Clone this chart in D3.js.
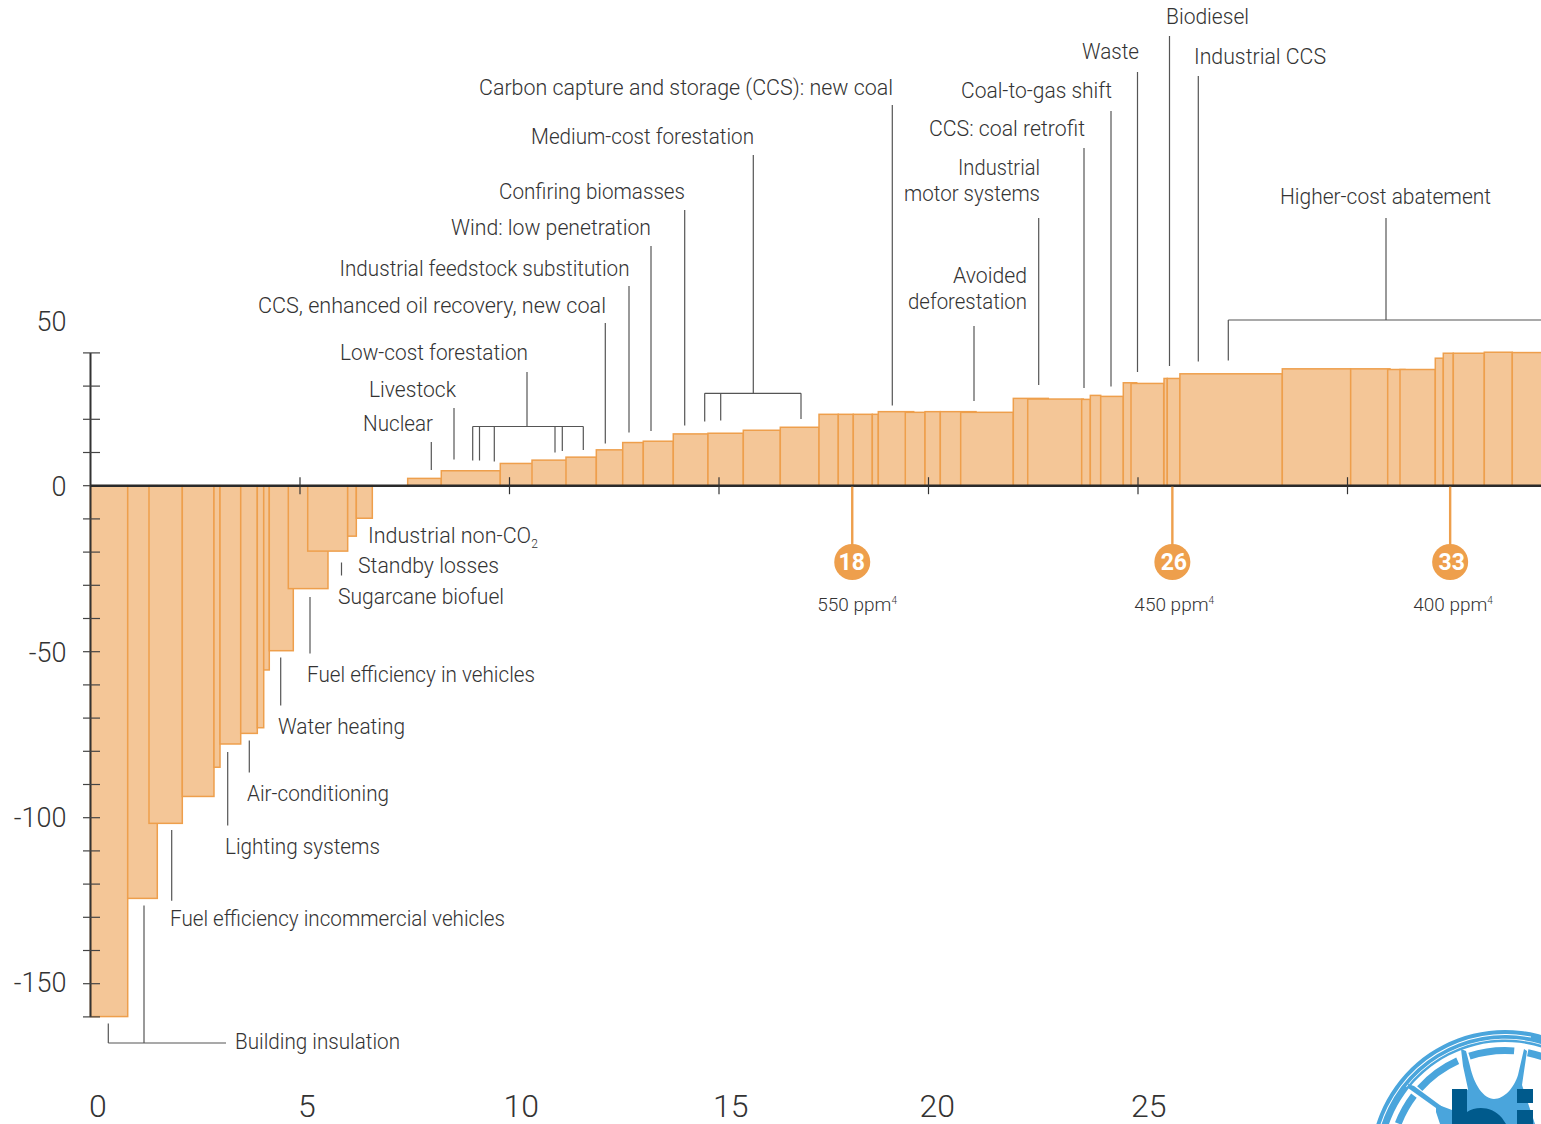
<!DOCTYPE html>
<html lang="en">
  <head>
    <meta charset="utf-8" />
    <style>
      html, body { margin: 0; padding: 0; background: #fff; }
      svg { display: block; }
      text { font-family: Roboto, "Liberation Sans", sans-serif; font-weight: 300; fill: #333; }
    </style>
    <script src="https://d3js.org/d3.v7.min.js"></script>
  </head>
  <body>
    <script>
      // bar widths run from barStart to barEnd (Gt CO2e), height is barValue (cost)
      var barStart = [0, 0.888, 1.396, 2.191, 2.947, 3.091, 3.585, 3.981, 4.134, 4.267, 4.721, 5.184, 6.138, 6.344,
        7.57, 8.372, 9.78, 10.537, 11.348, 12.072, 12.702, 13.193, 13.909, 14.737, 15.58, 16.463, 17.387, 17.847, 18.205, 18.659,
        18.802, 19.446, 19.917, 20.282, 20.768, 22.024, 22.368, 23.656, 23.862, 24.11, 24.649, 24.833, 25.621, 25.699, 26,
        28.444, 30.076, 30.959, 31.253, 32.095, 32.286, 32.525, 33.265, 33.933];
      var barEnd = [0.888, 1.594, 2.191, 2.947, 3.091, 3.585, 3.981, 4.134, 4.267, 4.84, 5.668, 6.138, 6.344, 6.726,
        8.372, 9.78, 10.625, 11.379, 12.072, 12.702, 13.193, 13.909, 14.737, 15.58, 16.463, 17.387, 17.847, 18.205, 18.659, 18.802,
        19.647, 19.917, 20.282, 21.134, 22.024, 22.859, 23.695, 23.862, 24.11, 24.649, 24.969, 25.613, 25.699, 26, 28.444,
        30.076, 31.014, 31.372, 32.095, 32.286, 32.525, 33.265, 33.933, 35];
      var barValue = [-159.9, -124.3, -101.7, -93.6, -84.8, -77.8, -74.6, -72.9, -55.5, -49.7, -31, -19.7, -15.2, -9.8,
        2.2, 4.5, 6.7, 7.7, 8.6, 10.8, 13, 13.4, 15.6, 15.8, 16.7, 17.6, 21.5, 21.5, 21.5, 21.5,
        22.3, 22.1, 22.3, 22.3, 22.1, 26.3, 26.1, 26, 27.2, 26.9, 31, 30.8, 32.3, 32.3, 33.7,
        35.2, 35.2, 35, 35, 38.4, 39.9, 39.9, 40.2, 40.1];

      var yTicks = d3.range(-160, 41, 10);
      var yLabels = [50, 0, -50, -100, -150];
      var yLabelNudge = [1, 0, 0, -1, -1.5];
      var xTicks = [5, 10, 15, 20, 25, 30];
      var xLabels = [0, 5, 10, 15, 20, 25];
      var xLabelNudge = [-1.5, -2, -6, -6, -9, -7];

      var markerAt = [18.18, 25.82, 32.45];
      var markerNames = ["18", "26", "33"];
      var markerPpm = ["550", "450", "400"];
      var markerNameNudge = [-0.5, 1.5, 1.5];
      var markerPpmNudge = [-35, -38, -37];

      var width = 1541,
        height = 1124;

      var x = d3.scaleLinear().domain([0, 30]).range([90.5, 1347.5]);
      var y = d3.scaleLinear().domain([0, -160]).range([485.7, 1016.9]);

      var orange = "#ee9f4c",
        fillColor = "#f4c697",
        ink = "#333";

      var svg = d3.select("body").append("svg").attr("width", width).attr("height", height);

      // bars
      svg.append("g").selectAll("rect")
        .data(barValue)
        .join("rect")
        .attr("x", function (d, i) { return x(barStart[i]); })
        .attr("width", function (d, i) { return x(barEnd[i]) - x(barStart[i]); })
        .attr("y", function (d) { return Math.min(y(d), y(0)); })
        .attr("height", function (d) { return Math.abs(y(d) - y(0)); })
        .attr("fill", fillColor)
        .attr("stroke", orange)
        .attr("stroke-width", 1.5);

      // axes
      var gy = svg.append("g").attr("transform", "translate(" + x(0) + ",0)")
        .call(d3.axisLeft(y).tickValues(yTicks).tickSize(7.5).tickFormat("").offset(0));
      gy.select(".domain").attr("stroke", ink).attr("stroke-width", 2).attr("d", "M0," + y(40) + "V" + y(-160));
      gy.selectAll(".tick line").attr("x2", -7.5).attr("x1", 9.5).attr("stroke", "#444").attr("stroke-width", 1.2);

      var gx = svg.append("g").attr("transform", "translate(0," + y(0) + ")")
        .call(d3.axisBottom(x).tickValues(xTicks).tickSize(8.5).tickFormat("").offset(0));
      gx.select(".domain").attr("stroke", "#2a2a2a").attr("stroke-width", 2.4).attr("d", "M" + x(0) + ",0H" + width);
      gx.selectAll(".tick line").attr("y1", -8.5).attr("stroke", "#333").attr("stroke-width", 1.2);

      svg.append("g").selectAll("text")
        .data(yLabels)
        .join("text")
        .attr("x", 66.5)
        .attr("y", function (d, i) { return y(d) + 10 + yLabelNudge[i]; })
        .attr("text-anchor", "end")
        .attr("font-size", 27)
        .text(function (d) { return d; });

      svg.append("g").selectAll("text")
        .data(xLabels)
        .join("text")
        .attr("x", function (d, i) { return x(d) + xLabelNudge[i]; })
        .attr("y", 1117)
        .attr("font-size", 32)
        .text(function (d) { return d; });

      // leader lines
      var leaderLines = [
        [431.3, 442, 431.3, 470], [454, 408, 454, 459.5],
        [527, 372, 527, 426.5], [472.7, 426.5, 583.3, 426.5], [472.7, 426.5, 472.7, 460.5], [479.5, 426.5, 479.5, 460.5],
        [494.3, 426.5, 494.3, 461.5], [555, 426.5, 555, 452.5], [562.3, 426.5, 562.3, 451], [583.3, 426.5, 583.3, 450],
        [605.3, 323, 605.3, 443.5], [629, 286, 629, 432.5], [651, 246, 651, 431], [684.7, 210, 684.7, 425.5],
        [753.3, 155, 753.3, 393.3], [704.7, 393.3, 801, 393.3], [704.7, 393.3, 704.7, 421.5], [720.7, 393.3, 720.7, 420.5], [801, 393.3, 801, 419],
        [892.3, 105, 892.3, 405.5], [974, 326, 974, 401], [1038.7, 218, 1038.7, 385], [1084, 148, 1084, 388],
        [1111, 111, 1111, 386.5], [1137.5, 72, 1137.5, 372], [1169.5, 36, 1169.5, 366], [1198.3, 76, 1198.3, 361.5],
        [1386, 218, 1386, 320], [1228.3, 320, 1541, 320], [1228.3, 320, 1228.3, 360.5],
        [341.5, 562.5, 341.5, 575.5], [310, 597, 310, 653.5], [280.7, 657.5, 280.7, 705.5], [249.3, 740.5, 249.3, 772.5],
        [227.7, 752, 227.7, 825.5], [171.7, 830, 171.7, 900.7], [144, 905.5, 144, 1043], [108.3, 1023.5, 108.3, 1043], [108.3, 1043, 226, 1043]
      ];
      svg.append("g").selectAll("line")
        .data(leaderLines)
        .join("line")
        .attr("x1", function (d) { return d[0]; })
        .attr("y1", function (d) { return d[1]; })
        .attr("x2", function (d) { return d[2]; })
        .attr("y2", function (d) { return d[3]; })
        .attr("stroke", "#555")
        .attr("stroke-width", 1.2);

      // callouts
      var calloutNames = ["Biodiesel", "Waste", "Industrial CCS", "Carbon capture and storage (CCS): new coal", "Coal-to-gas shift",
        "Medium-cost forestation", "CCS: coal retrofit", "Industrial", "motor systems", "Confiring biomasses", "Higher-cost abatement",
        "Wind: low penetration", "Industrial feedstock substitution", "Avoided", "deforestation", "CCS, enhanced oil recovery, new coal",
        "Low-cost forestation", "Livestock", "Nuclear", "Standby losses", "Sugarcane biofuel", "Fuel efficiency in vehicles",
        "Water heating", "Air-conditioning", "Lighting systems", "Fuel efficiency incommercial vehicles", "Building insulation"];
      var calloutPlace = [[1166, 24, "start"], [1139, 59, "end"], [1194, 64, "start"], [893, 95, "end"], [1112, 98, "end"],
        [754, 144, "end"], [1085, 136, "end"], [1040, 175, "end"], [1040, 201, "end"], [685, 199, "end"], [1385.5, 204, "middle"],
        [651, 235, "end"], [629.5, 276, "end"], [1027, 283, "end"], [1027, 309, "end"], [606, 313, "end"],
        [528, 360, "end"], [456, 397, "end"], [433, 431, "end"], [358, 573, "start"], [338, 604, "start"], [307, 682, "start"],
        [278, 734, "start"], [247, 801, "start"], [225, 854, "start"], [170, 926, "start"], [235, 1049, "start"]];
      // drawn widths in the reference face, Roboto is a bit off on some strings
      var calloutWidth = [83, 57, 132, 414, 151, 223, 156, 82, 136, 186, 211, 200, 290, 74, 119, 348,
        188, 87, 70, 141, 166, 228, 127, 142, 155, 335, 165];
      svg.append("g").selectAll("text")
        .data(calloutNames)
        .join("text")
        .attr("x", function (d, i) { return calloutPlace[i][0]; })
        .attr("y", function (d, i) { return calloutPlace[i][1]; })
        .attr("text-anchor", function (d, i) { return calloutPlace[i][2]; })
        .attr("font-size", 21.5)
        .attr("textLength", function (d, i) { return calloutWidth[i]; })
        .attr("lengthAdjust", "spacingAndGlyphs")
        .text(function (d) { return d; });

      var co2 = svg.append("text").attr("x", 368).attr("y", 543).attr("font-size", 21.5).text("Industrial non-CO");
      co2.append("tspan").attr("font-size", 12).attr("dy", 5).text("2");

      // concentration markers
      var markers = svg.append("g").selectAll("g")
        .data(markerAt)
        .join("g")
        .attr("transform", function (d) { return "translate(" + x(d) + ",0)"; });
      markers.append("line")
        .attr("y1", y(0) + 1).attr("y2", 546)
        .attr("stroke", orange).attr("stroke-width", 2.4);
      markers.append("circle")
        .attr("cy", 562).attr("r", 18).attr("fill", orange);
      markers.append("text")
        .attr("y", 570).attr("x", function (d, i) { return markerNameNudge[i]; })
        .attr("text-anchor", "middle")
        .attr("font-size", 23)
        .style("font-weight", 700)
        .style("fill", "#fff")
        .text(function (d, i) { return markerNames[i]; });
      var ppm = markers.append("text")
        .attr("x", function (d, i) { return markerPpmNudge[i]; })
        .attr("y", 611)
        .attr("font-size", 19)
        .text(function (d, i) { return markerPpm[i] + " ppm"; });
      ppm.append("tspan").attr("font-size", 10).attr("dy", -7).text("4");

      // logo in the corner, cut by the page edge
      var logoBlue = "#4aa5dc",
        logoDark = "#005a8c";
      var logo = svg.append("g").attr("transform", "translate(1505,1165)");
      var arc = d3.arc();
      logo.append("path").attr("fill", logoBlue)
        .attr("d", arc({ innerRadius: 123, outerRadius: 135, startAngle: -1.9, endAngle: 1.9 }));
      logo.append("path").attr("fill", "#fff")
        .attr("d", arc({ innerRadius: 130, outerRadius: 131, startAngle: -1.3, endAngle: 0.2 }));
      logo.append("path").attr("fill", "#fff")
        .attr("d", arc({ innerRadius: 125.5, outerRadius: 126.3, startAngle: -0.9, endAngle: 0.5 }));
      [[-0.316, 0.08], [-0.84, -0.426], [-1.2, -0.92], [0.2, 0.7]].forEach(function (a) {
        logo.append("path").attr("fill", logoBlue)
          .attr("d", arc({ innerRadius: 111, outerRadius: 118, startAngle: a[0], endAngle: a[1] }));
      });
      svg.append("path").attr("fill", logoBlue)
        .attr("d", "M1461,1049L1466,1051L1470,1066C1474,1085 1484,1099 1494,1099C1504,1099 1514,1088 1518,1075L1524,1049L1527,1051L1522,1085L1535,1124L1440,1124L1436,1112L1436,1104L1452,1110L1468,1089L1463,1066Z");
      svg.append("path").attr("fill", logoBlue)
        .attr("d", "M1408,1084L1414,1086L1452,1114L1450,1118L1408,1088Z");
      svg.append("path").attr("fill", logoDark)
        .attr("d", "M1452,1089H1467V1112C1476,1106 1492,1106 1502,1118L1506,1124H1452Z");
      svg.append("rect").attr("x", 1517).attr("y", 1089).attr("width", 16).attr("height", 14).attr("fill", logoDark);
      svg.append("rect").attr("x", 1517).attr("y", 1110).attr("width", 16).attr("height", 14).attr("fill", logoDark);

      console.log("ready..");
    </script>
  </body>
</html>
